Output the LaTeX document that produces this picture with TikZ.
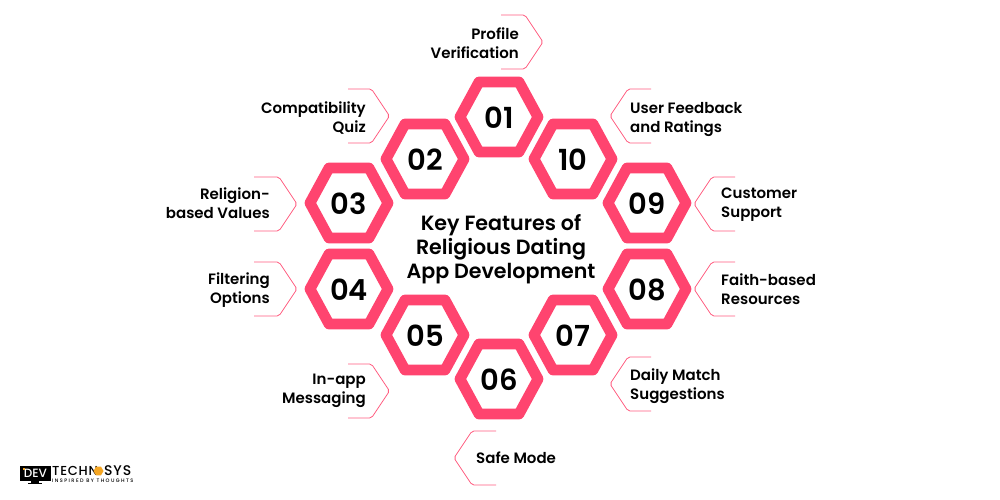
\documentclass[tikz,border=0pt]{standalone}
\usetikzlibrary{shapes.geometric}
\usepackage{fontspec}
\setmainfont{Poppins}
\newfontfamily\popmed{Poppins Medium}
\newfontfamily\popsemi{Poppins SemiBold}
\newfontfamily\poptag[LetterSpace=28]{Poppins Medium}
\newfontfamily\poplogo[LetterSpace=6]{Poppins Medium}
\definecolor{hexpink}{HTML}{FF446F}
\definecolor{linepink}{HTML}{FF5C80}
\definecolor{logoorange}{HTML}{F5A623}
\tikzset{
 hexring/.style={draw=hexpink,line width=10.8pt,line join=round,fill=white},
 numtext/.style={font=\fontsize{29}{29}\popsemi,text=black,inner sep=0pt,anchor=center},
 calloutline/.style={draw=linepink,line width=0.8pt,rounded corners=2pt},
 lefttext/.style={font=\fontsize{15}{19}\popsemi,align=right,anchor=east,inner sep=0pt,text=black},
 righttext/.style={font=\fontsize{15}{19}\popsemi,align=left,anchor=west,inner sep=0pt,text=black},
 titletext/.style={font=\fontsize{20.6}{24}\popsemi,align=center,inner sep=0pt,text=black},
}
\newcommand{\hexat}[4]{% name, x, y, number
 \draw[hexring] (#2-39,#3) -- (#2-20,#3-35) -- (#2+20,#3-35) -- (#2+39,#3) -- (#2+20,#3+35) -- (#2-20,#3+35) -- cycle;
 \node[numtext] (#1) at (#2,#3+1) {#4};
}
\newcommand{\calloutR}[3]{%
 \draw[calloutline] (#1,#3-27) -- (#2-18,#3-27) -- (#2,#3) -- (#2-18,#3+27) -- (#1,#3+27);
}
\newcommand{\calloutL}[3]{%
 \draw[calloutline] (#1,#3-27) -- (#2+18,#3-27) -- (#2,#3) -- (#2+18,#3+27) -- (#1,#3+27);
}
\begin{document}
\begin{tikzpicture}[x=1pt,y=-1pt]
\useasboundingbox (0,0) rectangle (1000,500);
\fill[white] (0,0) rectangle (1000,500);
\hexat{n01}{499}{117}{01}
\hexat{n10}{573}{159}{10}
\hexat{n09}{647}{203}{09}
\hexat{n08}{647}{289}{08}
\hexat{n07}{573}{335}{07}
\hexat{n06}{499}{379}{06}
\hexat{n05}{425}{335}{05}
\hexat{n04}{349}{289}{04}
\hexat{n03}{349}{203}{03}
\hexat{n02}{425}{159}{02}
\node[titletext] (title) at (501,249.5) {Key Features of\\Religious Dating\\App Development};
\calloutR{501}{543}{42}
\calloutR{348}{389.5}{116}
\calloutR{254}{297}{204}
\calloutR{254}{297}{289}
\calloutR{348}{389.5}{391}
\calloutL{651}{610}{116}
\calloutL{735}{694}{204}
\calloutL{735}{694}{289}
\calloutL{651}{610}{384}
\calloutL{496}{454}{458}
\node[lefttext] (l01) at (519,43) {Profile\\Verification};
\node[lefttext] (l02) at (366,118) {Compatibility\\Quiz};
\node[lefttext] (l03) at (270,203.5) {Religion-\\based Values};
\node[lefttext] (l04) at (270,290.5) {Filtering\\Options};
\node[lefttext] (l05) at (366,391) {In-app\\Messaging};
\node[righttext] (l10) at (630,119) {User Feedback\\and Ratings};
\node[righttext] (l09) at (721,204.5) {Customer\\Support};
\node[righttext] (l08) at (721,289.5) {Faith-based\\Resources};
\node[righttext] (l07) at (630,386) {Daily Match\\Suggestions};
\node[righttext] (l06) at (476,458) {Safe Mode};
% logo
\fill[black] (20,466) rectangle (50.5,481);
\fill[black] (31,481) rectangle (39,483);
\fill[black] (28,483.2) rectangle (42,484.2);
\node[font=\fontsize{12}{12}\popmed,text=white,inner sep=0pt] (logodev) at (35.5,473.5) {DEV};
\fill[logoorange] (22.5,468.2) rectangle (24.5,469.6);
\node[font=\fontsize{13}{12}\poplogo,text=black,inner sep=0pt,anchor=west] (logotech) at (52,470.5) {TECHN};
\node[regular polygon,regular polygon sides=6,fill=logoorange,inner sep=0pt,minimum size=10pt] (logohex) at (98.5,471) {};
\node[font=\fontsize{14}{12}\poplogo,text=black,inner sep=0pt,anchor=west] (logosys) at (104,470.5) {SYS};
\node[font=\fontsize{5}{5}\poptag,text=black,inner sep=0pt,anchor=west] (logotag) at (52,480.5) {INSPIRED BY THOUGHTS};
\end{tikzpicture}
\end{document}
